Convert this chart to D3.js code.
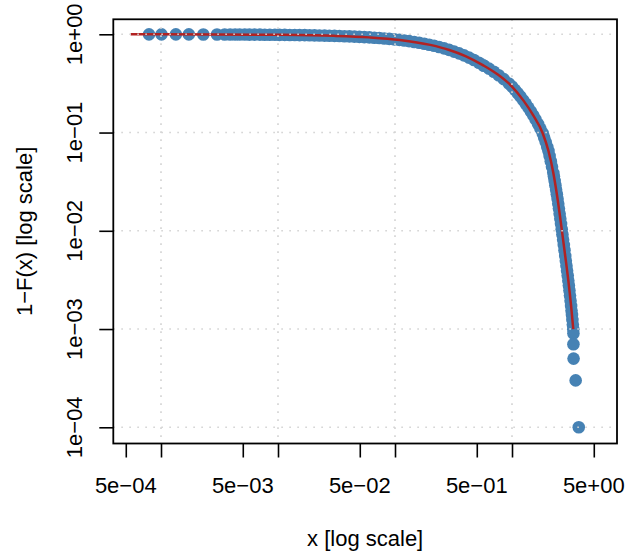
<!DOCTYPE html>
<html>
<head>
<meta charset="utf-8">
<script src="https://cdn.jsdelivr.net/npm/d3@7"></script>
<style>
  html, body { margin: 0; padding: 0; background: #ffffff; }
  svg { display: block; }
  text { font-family: "Liberation Sans", Arial, Helvetica, sans-serif; }
</style>
</head>
<body>
<div id="chart"></div>
<script>
// ---- Data ----
const sampleX = [
  0.00079, 0.00101, 0.00134, 0.00173, 0.0023, 0.00301,
  0.0035, 0.0039, 0.0043, 0.0047, 0.0052, 0.0057, 0.0063, 0.0070, 0.0077, 0.0085,
  0.0094, 0.0103, 0.0114, 0.0126, 0.0139, 0.0153, 0.0169, 0.0186, 0.0205, 0.0226,
  0.025, 0.0275, 0.0304, 0.0335, 0.037, 0.0408, 0.045, 0.0496, 0.0547, 0.0604,
  0.0666, 0.0735, 0.081, 0.0894, 0.0986, 0.109, 0.12, 0.132, 0.146, 0.161,
  0.178, 0.196, 0.216, 0.238, 0.263, 0.29, 0.32, 0.353, 0.389, 0.429,
  0.473, 0.522, 0.568, 0.576, 0.635, 0.70, 0.77, 0.85, 0.94, 1.0,
  1.06, 1.12, 1.18, 1.25, 1.31, 1.38, 1.45, 1.52, 1.59, 1.67, 1.75, 1.83,
  1.885, 1.94, 2.0, 2.05, 2.096, 2.146, 2.197, 2.254, 2.282, 2.315, 2.348, 2.382,
  2.416, 2.45, 2.484, 2.518, 2.553, 2.587, 2.624, 2.66, 2.697, 2.734, 2.772, 2.81,
  2.85, 2.885, 2.921, 2.957, 2.993, 3.03, 3.063, 3.097, 3.131, 3.165, 3.2,
  3.228, 3.255, 3.283, 3.311, 3.34,
  3.35, 3.35, 3.36, 3.50, 3.72
];
const sampleSurv = [
  0.9990, 0.9987, 0.9983, 0.9978, 0.9971, 0.9962,
  0.99581, 0.99533, 0.99485, 0.99437, 0.99378, 0.99318, 0.99247, 0.99163, 0.99080, 0.98985,
  0.98878, 0.98771, 0.98641, 0.98499, 0.98346, 0.98181, 0.97993, 0.97793, 0.97570, 0.97324,
  0.97045, 0.96754, 0.96419, 0.96060, 0.95659, 0.95218, 0.94743, 0.94224, 0.93647, 0.93008,
  0.92318, 0.91557, 0.90735, 0.89827, 0.88844, 0.87746, 0.8650, 0.8516, 0.8363, 0.8201,
  0.8022, 0.7836, 0.7635, 0.7420, 0.7183, 0.6935, 0.6670, 0.6390, 0.6097, 0.5789,
  0.5467, 0.5129, 0.4834, 0.4789, 0.4475, 0.4153, 0.3831, 0.3495, 0.3151, 0.2940,
  0.2720, 0.2516, 0.2327, 0.2125, 0.1965, 0.1794, 0.1638, 0.1496, 0.1361, 0.1221, 0.1096, 0.0985,
  0.0887, 0.0799, 0.0713, 0.0648, 0.0578, 0.0510, 0.0449, 0.0389, 0.0357, 0.0322, 0.0291, 0.0262,
  0.0236, 0.0212, 0.01888, 0.01682, 0.01493, 0.01330, 0.01173, 0.01038, 0.00919, 0.00813, 0.00717, 0.00633,
  0.00554, 0.00495, 0.00442, 0.00393, 0.00351, 0.00311, 0.00278, 0.00247, 0.00219, 0.00194, 0.00172,
  0.00154, 0.00139, 0.00124, 0.00111, 0.000996,
  0.0009, 0.0007, 0.0005, 0.0003, 0.0001
];

// fitted survival curve (red line)
const fitX = [0.00055, 0.001, 0.003, 0.01, 0.03, 0.06, 0.11, 0.2, 0.295, 0.4, 0.568, 0.75, 1.0,
              1.25, 1.52, 1.83, 2.05, 2.254, 2.45, 2.66, 2.85, 3.03, 3.2, 3.34];
const fitSurv = [0.99934, 0.9988, 0.9964, 0.9881, 0.9646, 0.9305, 0.876, 0.780, 0.689, 0.601, 0.483, 0.392, 0.294,
                 0.2125, 0.1496, 0.0985, 0.0648, 0.0389, 0.0212, 0.0104, 0.00554, 0.00311, 0.00172, 0.001];

const xTickValues = [5e-4, 1e-3, 5e-3, 1e-2, 5e-2, 1e-1, 5e-1, 1, 5];
const xTickLabels = ["5e\u221204", "", "5e\u221203", "", "5e\u221202", "", "5e\u221201", "", "5e+00"];
const yTickValues = [1e-4, 1e-3, 1e-2, 1e-1, 1];
const yTickLabels = ["1e\u221204", "1e\u221203", "1e\u221202", "1e\u221201", "1e+00"];
const gridXValues = [1e-3, 1e-2, 1e-1, 1];
const gridYValues = [1e-4, 1e-3, 1e-2, 1e-1, 1];

const xTitle = "x [log scale]";
const yTitle = "1\u2212F(x) [log scale]";

// ---- Layout ----
const W = 626, H = 551;
const plot = { left: 113.3, right: 617, top: 19.3, bottom: 443.5 };
const fontSize = 22;

const svg = d3.select("#chart").append("svg")
  .attr("width", W).attr("height", H);
svg.append("rect").attr("width", W).attr("height", H).attr("fill", "#ffffff");

const x = d3.scaleLog()
  .domain([Math.pow(10, -3.4077), Math.pow(10, 0.8974)])
  .range([plot.left, plot.right]);
const y = d3.scaleLog()
  .domain([Math.pow(10, -4.165), Math.pow(10, 0.1527)])
  .range([plot.bottom, plot.top]);

svg.append("clipPath").attr("id", "clip")
  .append("rect")
  .attr("x", plot.left).attr("y", plot.top)
  .attr("width", plot.right - plot.left).attr("height", plot.bottom - plot.top);

const pts = sampleX.map((d, i) => ({ x: d, s: sampleSurv[i] }));
const fit = fitX.map((d, i) => ({ x: d, s: fitSurv[i] }));

const gData = svg.append("g").attr("clip-path", "url(#clip)");

// points
gData.selectAll("circle").data(pts).join("circle")
  .attr("cx", d => x(d.x))
  .attr("cy", d => y(d.s))
  .attr("r", 6.3)
  .attr("fill", "#4682B4");

// fitted line
gData.append("path")
  .datum(fit)
  .attr("fill", "none")
  .attr("stroke", "#B22222")
  .attr("stroke-width", 2.5)
  .attr("d", d3.line().x(d => x(d.x)).y(d => y(d.s)).curve(d3.curveMonotoneX));

// grid (drawn on top, as in R's grid())
const gGrid = svg.append("g");
gGrid.selectAll("line.gx").data(gridXValues).join("line")
  .attr("class", "gx")
  .attr("x1", d => x(d)).attr("x2", d => x(d))
  .attr("y1", plot.top).attr("y2", plot.bottom)
  .attr("stroke", "#D3D3D3").attr("stroke-width", 1.6)
  .attr("stroke-dasharray", "1.6,6.4");
gGrid.selectAll("line.gy").data(gridYValues).join("line")
  .attr("class", "gy")
  .attr("x1", plot.left).attr("x2", plot.right)
  .attr("y1", d => y(d)).attr("y2", d => y(d))
  .attr("stroke", "#D3D3D3").attr("stroke-width", 1.6)
  .attr("stroke-dasharray", "1.6,6.4");

// axes
const xAxis = d3.axisBottom(x).tickValues(xTickValues).tickFormat("").tickSize(14).tickSizeOuter(0);
const gx = svg.append("g").attr("transform", `translate(0,${plot.bottom})`).call(xAxis);
gx.select(".domain").remove();
gx.selectAll(".tick line").attr("stroke", "#000").attr("stroke-width", 1.6);

const yAxis = d3.axisLeft(y).tickValues(yTickValues).tickFormat("").tickSize(14).tickSizeOuter(0);
const gy = svg.append("g").attr("transform", `translate(${plot.left},0)`).call(yAxis);
gy.select(".domain").remove();
gy.selectAll(".tick line").attr("stroke", "#000").attr("stroke-width", 1.6);

// tick labels
svg.append("g").selectAll("text").data(xTickValues).join("text")
  .attr("x", d => x(d))
  .attr("y", 493)
  .attr("text-anchor", "middle")
  .attr("font-size", fontSize)
  .attr("fill", "#000")
  .text((d, i) => xTickLabels[i]);

svg.append("g").selectAll("text").data(yTickValues).join("text")
  .attr("transform", d => `translate(82,${y(d)}) rotate(-90)`)
  .attr("text-anchor", "middle")
  .attr("font-size", fontSize)
  .attr("fill", "#000")
  .text((d, i) => yTickLabels[i]);

// box
svg.append("rect")
  .attr("x", plot.left).attr("y", plot.top)
  .attr("width", plot.right - plot.left).attr("height", plot.bottom - plot.top)
  .attr("fill", "none").attr("stroke", "#000").attr("stroke-width", 1.8);

// titles
svg.append("text")
  .attr("x", (plot.left + plot.right) / 2)
  .attr("y", 546)
  .attr("text-anchor", "middle")
  .attr("font-size", fontSize)
  .attr("fill", "#000")
  .text(xTitle);

svg.append("text")
  .attr("transform", `translate(32,${(plot.top + plot.bottom) / 2}) rotate(-90)`)
  .attr("text-anchor", "middle")
  .attr("font-size", fontSize)
  .attr("fill", "#000")
  .text(yTitle);
</script>
</body>
</html>
